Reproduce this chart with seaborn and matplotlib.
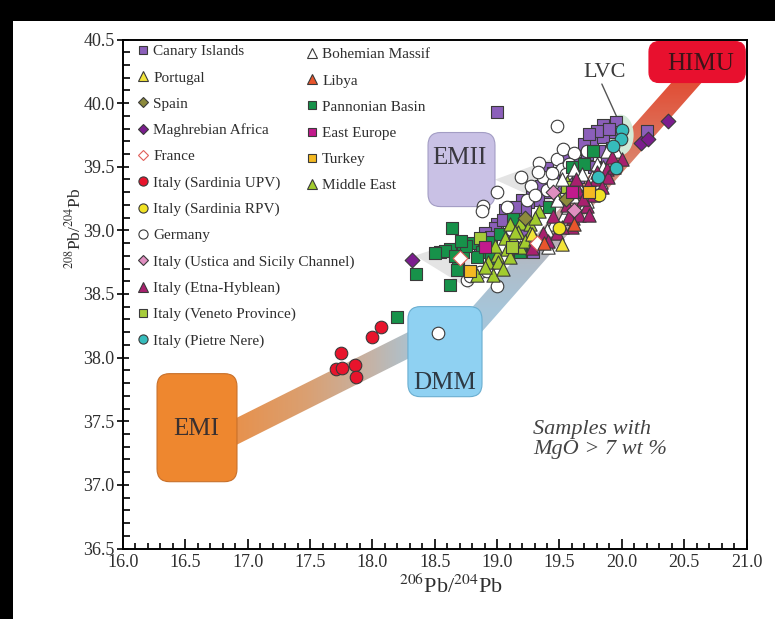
import numpy as np
import pandas as pd
import matplotlib
matplotlib.use("Agg")
import matplotlib.pyplot as plt
import seaborn as sns
from matplotlib.patches import FancyBboxPatch, Polygon, Ellipse, Rectangle
from matplotlib.lines import Line2D
from matplotlib.colors import LinearSegmentedColormap
from matplotlib.ticker import MultipleLocator, FormatStrFormatter

# ---------------- data (206Pb/204Pb, 208Pb/204Pb) ----------------
canary_x = [19.00, 20.20, 19.85, 19.95, 19.92, 19.84, 19.76, 19.85, 19.92, 19.72, 19.40, 19.33,
            19.25, 19.20, 19.10, 19.00, 19.29, 19.58, 19.65, 19.52, 19.40, 19.62, 19.53, 19.06,
            18.98, 18.90, 19.16, 19.12, 19.49, 19.78, 19.88, 19.80, 19.20, 18.86, 19.66,
            19.28, 19.35, 19.22, 19.05, 18.95, 19.45, 19.70, 19.82, 19.14, 19.90, 19.74]
canary_y = [39.93, 39.78, 39.83, 39.85, 39.77, 39.77, 39.70, 39.73, 39.65, 39.60, 39.30, 39.24,
            39.22, 39.24, 39.12, 39.05, 38.83, 39.40, 39.42, 39.34, 39.49, 39.53, 39.56, 39.16,
            39.02, 38.98, 39.05, 38.92, 39.40, 39.50, 39.58, 39.78, 38.98, 38.88, 39.30,
            39.30, 39.35, 39.16, 39.08, 38.95, 39.45, 39.68, 39.62, 39.18, 39.80, 39.76]
portugal_x = [19.52, 19.28]
portugal_y = [38.89, 38.97]
spain_x = [19.55, 19.22]
spain_y = [39.25, 39.10]
maghreb_x = [18.32, 20.15, 20.21, 20.37]
maghreb_y = [38.77, 39.69, 39.72, 39.86]
france_x = [19.32, 18.70]
france_y = [38.90, 38.78]
upv_x = [17.71, 17.76, 17.75, 17.86, 17.87, 18.00, 18.07]
upv_y = [37.91, 37.92, 38.04, 37.94, 37.85, 38.16, 38.24]
rpv_x = [19.82, 19.50]
rpv_y = [39.28, 39.02]
germany_x = [18.53, 19.48, 19.19, 19.00, 18.89, 18.88, 19.08, 19.34, 19.37, 19.48, 19.53, 19.62,
             19.72, 19.52, 19.40, 19.24, 18.76, 19.00, 18.86, 19.27, 19.45, 19.30, 18.78, 18.92,
             19.15, 19.58, 19.44, 19.12, 19.55, 19.33]
germany_y = [38.19, 39.82, 39.42, 39.30, 39.19, 39.15, 39.18, 39.53, 39.42, 39.56, 39.64, 39.61,
             39.62, 39.48, 39.32, 39.24, 38.61, 38.56, 38.67, 39.35, 39.37, 39.28, 38.64, 38.68,
             38.94, 39.52, 39.45, 39.00, 39.44, 39.46]
ustica_x = [19.45, 19.62]
ustica_y = [39.30, 39.16]
etna_x = [20.00, 19.88, 19.89, 19.79, 19.84, 19.77, 19.65, 19.72, 19.61, 19.45, 19.48, 19.37,
          19.60, 19.66, 19.80, 19.73, 19.58, 19.52, 19.30, 19.41, 19.94, 19.69, 19.28,
          19.56, 19.74, 19.92, 19.63]
etna_y = [39.56, 39.48, 39.42, 39.40, 39.34, 39.28, 39.32, 39.19, 39.10, 39.11, 38.98, 38.98,
          39.03, 39.12, 39.46, 39.36, 39.11, 39.03, 38.93, 38.92, 39.50, 39.25, 38.86,
          39.20, 39.12, 39.58, 39.40]
veneto_x = [19.56, 18.86, 19.12]
veneto_y = [39.34, 38.94, 38.87]
pietre_x = [20.00, 19.99, 19.95, 19.81, 19.93]
pietre_y = [39.79, 39.72, 39.49, 39.42, 39.66]
bohemian_x = [19.95, 19.91, 19.80, 19.61, 19.72, 19.70, 19.53, 19.41, 19.54, 19.48, 19.52, 19.88,
              19.62, 19.76, 19.65, 19.57, 19.45, 19.36, 19.85, 19.40, 19.68, 19.83]
bohemian_y = [39.62, 39.56, 39.52, 39.27, 39.23, 39.19, 39.10, 38.87, 39.12, 39.24, 39.40, 39.62,
              39.48, 39.42, 39.36, 39.18, 39.05, 38.95, 39.50, 39.00, 39.44, 39.38]
libya_x = [19.62, 19.38]
libya_y = [39.05, 38.90]
pannonian_x = [18.20, 18.35, 18.62, 18.64, 18.54, 18.62, 18.73, 18.69, 18.68, 18.80, 18.88, 18.84,
               18.94, 19.02, 19.13, 19.42, 19.60, 19.70, 19.77, 19.18, 18.58, 18.75, 18.66, 18.95,
               18.50, 18.71]
pannonian_y = [38.32, 38.66, 38.57, 39.02, 38.83, 38.85, 38.83, 38.75, 38.69, 38.90, 38.83, 38.79,
               38.91, 38.97, 39.09, 39.18, 39.50, 39.52, 39.62, 38.83, 38.84, 38.88, 38.80, 38.78,
               38.82, 38.92]
easteu_x = [18.90, 19.60]
easteu_y = [38.87, 39.30]
turkey_x = [18.78, 19.74]
turkey_y = [38.68, 39.30]
mideast_x = [19.10, 19.18, 19.26, 19.17, 19.26, 19.06, 19.13, 19.18, 19.08, 19.00, 19.10, 18.93,
             19.01, 18.97, 18.84, 19.34, 19.49, 19.56, 18.90, 19.05, 19.22, 18.98, 19.30, 19.14]
mideast_y = [39.05, 39.06, 39.05, 38.99, 38.98, 38.94, 38.93, 38.87, 38.85, 38.81, 38.79, 38.75,
             38.75, 38.65, 38.65, 39.15, 39.26, 39.38, 38.71, 38.70, 38.92, 38.88, 39.10, 38.99]

# name, x, y, marker, face, edge
series = [
    ("Canary Islands", canary_x, canary_y, "s", "#8b5fba", "#3a3a3a"),
    ("Portugal", portugal_x, portugal_y, "^", "#f2e43a", "#3a3a3a"),
    ("Spain", spain_x, spain_y, "D", "#8c8a3c", "#3a3a3a"),
    ("Maghrebian Africa", maghreb_x, maghreb_y, "D", "#7b1d8e", "#3a3a3a"),
    ("France", france_x, france_y, "D", "#ffffff", "#e0605a"),
    ("Italy (Sardinia UPV)", upv_x, upv_y, "o", "#e8142c", "#3a3a3a"),
    ("Italy (Sardinia RPV)", rpv_x, rpv_y, "o", "#f0e224", "#3a3a3a"),
    ("Germany", germany_x, germany_y, "o", "#ffffff", "#3a3a3a"),
    ("Italy (Ustica and Sicily Channel)", ustica_x, ustica_y, "D", "#e08ec0", "#3a3a3a"),
    ("Italy (Etna-Hyblean)", etna_x, etna_y, "^", "#a8206e", "#3a3a3a"),
    ("Italy (Veneto Province)", veneto_x, veneto_y, "s", "#a6cc3a", "#3a3a3a"),
    ("Italy (Pietre Nere)", pietre_x, pietre_y, "o", "#36bcbc", "#3a3a3a"),
    ("Bohemian Massif", bohemian_x, bohemian_y, "^", "#ffffff", "#3a3a3a"),
    ("Libya", libya_x, libya_y, "^", "#e8552c", "#3a3a3a"),
    ("Pannonian Basin", pannonian_x, pannonian_y, "s", "#17924a", "#3a3a3a"),
    ("East Europe", easteu_x, easteu_y, "s", "#c21a8c", "#3a3a3a"),
    ("Turkey", turkey_x, turkey_y, "s", "#f4b922", "#3a3a3a"),
    ("Middle East", mideast_x, mideast_y, "^", "#a2cc2e", "#3a3a3a"),
]
draw_order = ["Canary Islands", "Germany", "Pannonian Basin", "Middle East", "Italy (Veneto Province)",
              "Bohemian Massif", "Italy (Etna-Hyblean)", "Italy (Pietre Nere)", "Maghrebian Africa",
              "Italy (Sardinia UPV)", "Italy (Sardinia RPV)", "Portugal", "Spain", "France",
              "Italy (Ustica and Sicily Channel)", "Libya", "East Europe", "Turkey"]

rows = []
for name, xs, ys, *_ in series:
    for a, b in zip(xs, ys):
        rows.append((name, a, b))
df = pd.DataFrame(rows, columns=["group", "x", "y"])
style = {s[0]: s[3:] for s in series}

# ---------------- styling ----------------
sns.set_theme(style="white")
plt.rcParams["font.family"] = ["Liberation Serif", "DejaVu Serif"]
plt.rcParams["mathtext.fontset"] = "stix"
TXT = "#2e2e2e"

W, H = 775, 619
fig = plt.figure(figsize=(W / 100, H / 100), dpi=100, facecolor="black")
fig.patches.append(Rectangle((13 / W, 0), 1, 1 - 21 / H, transform=fig.transFigure,
                             facecolor="white", edgecolor="none", zorder=-10))
ax = fig.add_axes([123 / W, 1 - 548.5 / H, 623.5 / W, 509 / H])
ax.set_facecolor("white")

# ---------------- gradient mixing band ----------------
band_cmap = LinearSegmentedColormap.from_list("band", [
    (0.0, "#e8904a"), (0.2, "#daa072"), (0.36, "#c6b2a4"), (0.5, "#a6c6da"),
    (0.6, "#b0bcc8"), (0.7, "#c6a4a4"), (0.82, "#dc8068"), (1.0, "#e2472f")])
gx = np.linspace(16, 21, 700)
gy = np.linspace(36.5, 40.5, 600)
GX, GY = np.meshgrid(gx, gy)
t1 = 0.5 * np.clip((GX - 16.85) / (18.4 - 16.85), 0, 1)
t2 = 0.5 + 0.5 * np.clip((GY - 38.35) / (40.25 - 38.35), 0, 1)
T = np.where(GX < 18.6, t1, t2)
im = ax.imshow(T, extent=[16, 21, 36.5, 40.5], origin="lower", cmap=band_cmap,
               vmin=0, vmax=1, aspect="auto", zorder=1, interpolation="bilinear")
band_poly = Polygon([(16.818, 37.481), (18.542, 38.326), (18.783, 38.377), (20.563, 40.343),
                     (20.804, 40.343), (18.823, 38.142), (18.622, 38.157), (16.818, 37.269)],
                    closed=True, facecolor="none", edgecolor="none", transform=ax.transData)
ax.add_patch(band_poly)
im.set_clip_path(band_poly)

# light gray mixing wedges
for pts in ([(18.983, 39.399), (19.424, 39.557), (19.424, 39.203)],
            [(18.342, 38.802), (18.783, 38.943), (18.783, 38.535)]):
    ax.add_patch(Polygon(pts, closed=True, facecolor="#e4e4e4", edgecolor="none", zorder=1.5))

# LVC field
ax.add_patch(Ellipse((19.99, 39.75), 0.21, 0.32, facecolor="#d3ead8", edgecolor="none", zorder=1.6))
ax.plot([19.84, 19.965], [40.15, 39.88], color="#555555", lw=1.0, zorder=1.7)

# end-member boxes
def rbox(x0, y0, x1, y1, fc, ec, r=0.1):
    ax.add_patch(FancyBboxPatch((x0, y0), x1 - x0, y1 - y0,
                                boxstyle=f"round,pad=0,rounding_size={r}",
                                facecolor=fc, edgecolor=ec, lw=0.8, zorder=2))

rbox(16.273, 37.025, 16.914, 37.874, "#ee872f", "#c8702a")
rbox(18.285, 37.693, 18.879, 38.401, "#8fd1f2", "#6aaed0")
rbox(18.446, 39.187, 18.983, 39.769, "#c9c1e5", "#a39dc4")
rbox(20.218, 40.162, 20.99, 40.484, "#e8102e", "#e8102e", r=0.08)

ax.text(16.59, 37.44, "EMI", fontsize=18, color="#3a3030", ha="center", va="center", zorder=2.5)
ax.text(18.58, 37.80, "DMM", fontsize=18, color="#2e3a44", ha="center", va="center", zorder=2.5)
ax.text(18.70, 39.57, "EMII", fontsize=18, color="#3a3840", ha="center", va="center", zorder=2.5)
ax.text(20.63, 40.31, "HIMU", fontsize=18, color="#3c1418", ha="center", va="center", zorder=2.5)
ax.text(19.86, 40.24, "LVC", fontsize=16, color="#3a3a3a", ha="center", va="center", zorder=2.5)
ax.text(19.29, 37.355, "Samples with\nMgO > 7 wt %", fontsize=16, style="italic",
        color="#444444", ha="left", va="center", linespacing=1.05, zorder=2.5)

# ---------------- scatter points (seaborn) ----------------
sizes = {"s": 78, "o": 82, "^": 92, "D": 56}
for i, name in enumerate(draw_order):
    m, fc, ec = style[name]
    sub = df[df["group"] == name]
    sns.scatterplot(data=sub, x="x", y="y", marker=m, color=fc, edgecolor=ec,
                    linewidth=0.8, s=sizes[m], ax=ax, legend=False, zorder=3 + i * 0.01)

# ---------------- legends ----------------
def handles(names):
    hs = []
    for n in names:
        m, fc, ec = style[n]
        ms = {"s": 6.4, "o": 6.6, "^": 7.0, "D": 5.6}[m]
        hs.append(Line2D([], [], linestyle="none", marker=m, markersize=ms,
                         markerfacecolor=fc, markeredgecolor=ec, markeredgewidth=0.8))
    return hs

col1 = [s[0] for s in series[:12]]
col2 = [s[0] for s in series[12:]]
common = dict(frameon=False, loc="upper left", borderpad=0, borderaxespad=0,
              handlelength=0.8, handletextpad=0.25, labelspacing=0.82,
              prop={"family": "Liberation Serif", "size": 11}, labelcolor=TXT)
leg1 = ax.legend(handles(col1), col1, bbox_to_anchor=(0.0225, 0.990), **common)
ax.add_artist(leg1)
ax.legend(handles(col2), col2, bbox_to_anchor=(0.2935, 0.984), **common)

# ---------------- axes ----------------
ax.set_xlim(16, 21)
ax.set_ylim(36.5, 40.5)
ax.xaxis.set_major_locator(MultipleLocator(0.5))
ax.xaxis.set_minor_locator(MultipleLocator(0.1))
ax.yaxis.set_major_locator(MultipleLocator(0.5))
ax.yaxis.set_minor_locator(MultipleLocator(0.1))
ax.xaxis.set_major_formatter(FormatStrFormatter("%.1f"))
ax.yaxis.set_major_formatter(FormatStrFormatter("%.1f"))
ax.tick_params(axis="x", which="major", direction="in", length=7, width=1.2, color="black",
               bottom=True, top=False, pad=4, labelsize=13, labelcolor=TXT)
ax.tick_params(axis="x", which="minor", direction="in", length=4.5, width=1.2, color="black",
               bottom=True, top=False)
ax.tick_params(axis="y", which="major", direction="inout", length=8, width=1.2, color="black",
               left=True, right=False, pad=2, labelsize=13, labelcolor=TXT)
ax.tick_params(axis="y", which="minor", direction="in", length=5, width=1.2, color="black",
               left=True, right=False)
for sp in ax.spines.values():
    sp.set_visible(True)
    sp.set_color("black")
    sp.set_linewidth(1.4)

ax.set_xlabel(r"$^{206}$Pb/$^{204}$Pb", fontsize=16, color=TXT)
ax.set_ylabel(r"$^{208}$Pb/$^{204}$Pb", fontsize=12.5, color=TXT)
ax.xaxis.set_label_coords(0.526, -0.052)
ax.yaxis.set_label_coords(-0.062, 0.63)

fig.savefig("out.png", dpi=100, facecolor=fig.get_facecolor())
